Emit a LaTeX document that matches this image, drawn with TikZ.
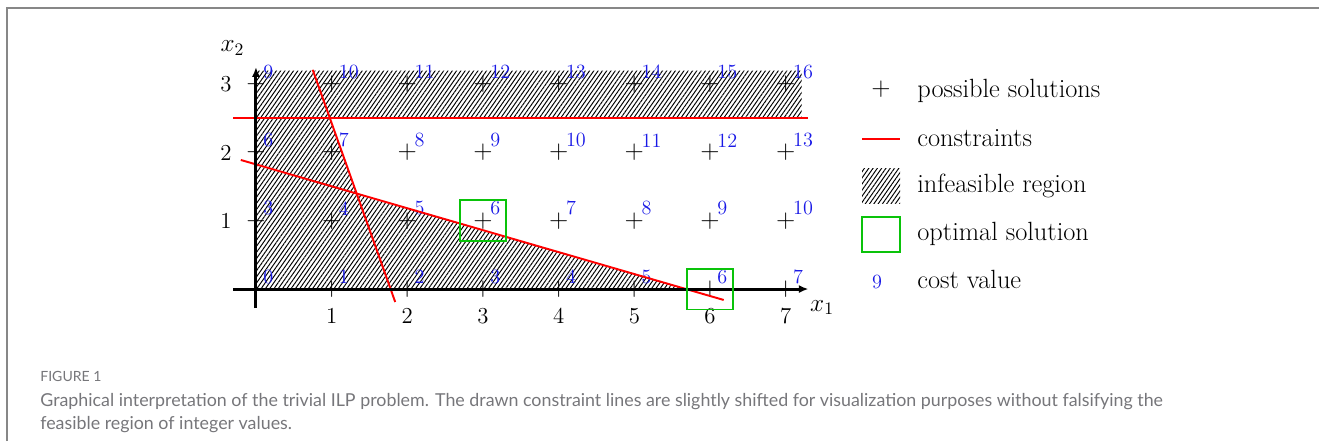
\documentclass[tikz,border=0pt]{standalone}
\usepackage{fontspec}
\newfontfamily\capfont{Lato}
\usetikzlibrary{arrows.meta,patterns.meta}
\definecolor{costblue}{RGB}{25,25,230}
\definecolor{optgreen}{RGB}{10,195,10}
\definecolor{capgray}{RGB}{118,118,122}
\definecolor{framegray}{RGB}{135,135,135}

\begin{document}
\begin{tikzpicture}[x=0.02cm, y=0.02cm,
    every node/.style={font=\fontsize{13}{15}\selectfont},
    solpoint/.style={inner sep=0pt, font=\fontsize{14}{16}\selectfont},
    costval/.style={text=costblue, anchor=south west, inner sep=0pt, xshift=0.14cm, yshift=0.1cm, font=\fontsize{11.5}{13}\selectfont},
    constraint/.style={red, line width=1.1pt},
    infeasible/.style={pattern={Lines[angle=55,distance=2pt,line width=0.55pt]}},
    optimal/.style={draw=optgreen, line width=1.1pt, inner sep=0pt, minimum width=0.92cm, minimum height=0.82cm},
    axisline/.style={line width=1.7pt, -{Latex[length=5.5pt,width=4.6pt]}},
    legtext/.style={anchor=base west, inner sep=0pt, font=\fontsize{15}{18}\selectfont},
    captext/.style={anchor=base west, inner sep=0pt, text=capgray, font=\capfont\fontsize{10.15}{12}\selectfont}]
  \useasboundingbox (0,0) rectangle (1319,441);
  % frame of the figure
  \draw[framegray, line width=1.2pt] (7,0) -- (7,433) -- (1319,433);

  % the plot
  \begin{scope}[shift={(5.12cm,3.04cm)}, x=1.514cm, y=1.366cm]
    \fill[infeasible] (0,0) -- (5.69,0) -- (1.33,1.40) -- (0.98,2.5) -- (7.21,2.5) -- (7.21,3.2) -- (0,3.2) -- cycle;
    \foreach \i in {0,...,7}
      \foreach \j in {0,...,3} {
        \pgfmathtruncatemacro\cst{\i+3*\j}
        \node[solpoint] (p-\i-\j) at (\i,\j) {$+$};
        \node[costval] (c-\i-\j) at (p-\i-\j.center) {\cst};
      }
    % constraints
    \coordinate (s1) at (0.75,3.21);
    \coordinate (s2) at (1.84,-0.19);
    \coordinate (f1) at (-0.2,1.89);
    \coordinate (f2) at (6.18,-0.16);
    \coordinate (h1) at (-0.3,2.5);
    \coordinate (h2) at (7.3,2.5);
    \draw[constraint] (s1) -- (s2);
    \draw[constraint] (f1) -- (f2);
    \draw[constraint] (h1) -- (h2);
    % axes
    \coordinate (xa) at (-0.3,0);
    \coordinate (xb) at (7.3,0);
    \coordinate (ya) at (0,-0.28);
    \coordinate (yb) at (0,3.25);
    \draw[axisline] (xa) -- (xb);
    \draw[axisline] (ya) -- (yb);
    \foreach \i in {1,...,7}
      \node (tx-\i) at (\i,0) [yshift=-0.54cm] {\i};
    \foreach \j in {1,2,3}
      \node (ty-\j) at (0,\j) [xshift=-0.6cm] {\j};
    \node[font=\fontsize{14}{16}\selectfont] (x1lab) at (7.48,-0.27) {$x_1$};
    \node[font=\fontsize{14}{16}\selectfont] (x2lab) at (-0.31,3.53) {$x_2$};
    % optimal solutions
    \node[optimal] (opt1) at (p-3-1) {};
    \node[optimal] (opt2) at (p-6-0) {};
  \end{scope}

  % legend
  \node[solpoint, font=\fontsize{15}{18}\selectfont] (lg-pt) at (881,352) {$+$};
  \coordinate (lg-c1) at (862,302);
  \coordinate (lg-c2) at (900,302);
  \draw[constraint] (lg-c1) -- (lg-c2);
  \fill[infeasible] (862,238) rectangle (900,273);
  \draw[optgreen, line width=1.1pt] (862,189) rectangle (900,224);
  \node[text=costblue, font=\fontsize{11.5}{13}\selectfont] (lg-cv) at (877,159) {9};
  \node[legtext] (lt-pt) at (917,344) {possible solutions};
  \node[legtext] (lt-c) at (917,295) {constraints};
  \node[legtext] (lt-inf) at (917,249) {infeasible region};
  \node[legtext] (lt-opt) at (917,201) {optimal solution};
  \node[legtext] (lt-cv) at (917,153) {cost value};

  % caption
  \node[captext, font=\capfont\fontsize{8}{10}\selectfont] (capnum) at (40,60) {FIGURE 1};
  \node[captext] (cap1) at (40,35) {Graphical interpretation of the trivial ILP problem. The drawn constraint lines are slightly shifted for visualization purposes without falsifying the};
  \node[captext] (cap2) at (40,12) {feasible region of integer values.};
\end{tikzpicture}
\end{document}
